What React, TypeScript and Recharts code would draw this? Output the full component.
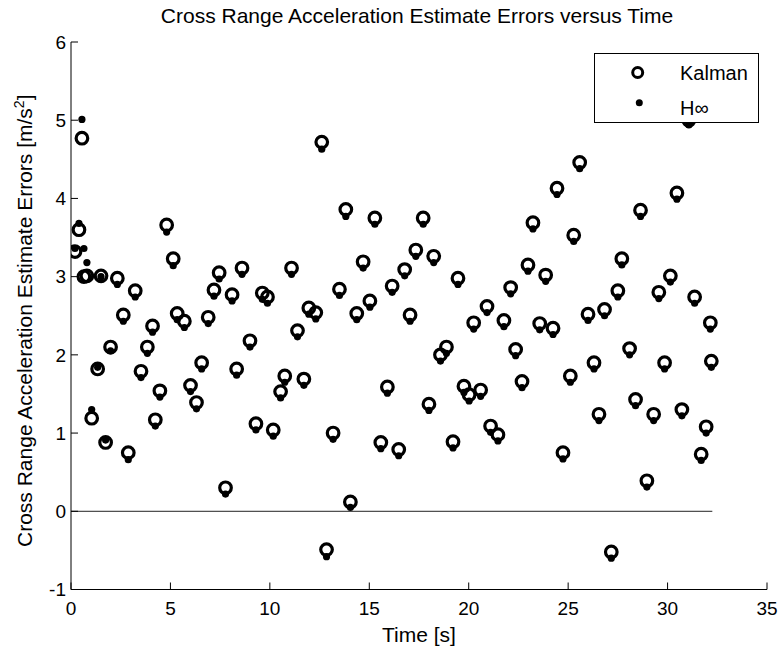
import React from 'react';
import { ScatterChart, Scatter, XAxis, YAxis, ReferenceLine, Legend } from 'recharts';

// Sample times [s]
const times = [
  0.2, 0.4, 0.55, 0.65, 0.8, 1.04, 1.34, 1.51, 1.74, 1.99,
  2.33, 2.63, 2.88, 3.23, 3.52, 3.84, 4.1, 4.24, 4.47, 4.81,
  5.14, 5.34, 5.7, 6.01, 6.31, 6.57, 6.9, 7.19, 7.45, 7.77,
  8.1, 8.33, 8.6, 9.0, 9.3, 9.62, 9.88, 10.17, 10.54, 10.75,
  11.09, 11.39, 11.71, 11.96, 12.31, 12.61, 12.85, 13.18, 13.5, 13.82,
  14.05, 14.37, 14.69, 15.03, 15.28, 15.58, 15.91, 16.15, 16.48, 16.78,
  17.05, 17.34, 17.71, 18.0, 18.24, 18.58, 18.88, 19.21, 19.46, 19.76,
  20.02, 20.25, 20.6, 20.92, 21.1, 21.47, 21.77, 22.11, 22.36, 22.68,
  22.98, 23.23, 23.57, 23.87, 24.24, 24.44, 24.74, 25.11, 25.28, 25.58,
  26.0, 26.3, 26.55, 26.83, 27.17, 27.5, 27.7, 28.09, 28.39, 28.64,
  28.96, 29.3, 29.56, 29.85, 30.14, 30.47, 30.72, 31.07, 31.36, 31.69,
  31.94, 32.15, 32.2,
];

// Kalman filter cross range acceleration estimate errors [m/s^2]
const kalmanErr = [
  3.32, 3.6, 4.77, 3.0, 3.01, 1.19, 1.82, 3.01, 0.88, 2.1,
  2.98, 2.51, 0.75, 2.82, 1.79, 2.1, 2.37, 1.17, 1.54, 3.66,
  3.23, 2.53, 2.43, 1.61, 1.39, 1.9, 2.48, 2.83, 3.05, 0.3,
  2.77, 1.82, 3.11, 2.18, 1.12, 2.79, 2.74, 1.04, 1.53, 1.73,
  3.11, 2.31, 1.69, 2.6, 2.54, 4.72, -0.49, 1.0, 2.84, 3.86,
  0.12, 2.53, 3.19, 2.69, 3.75, 0.88, 1.59, 2.88, 0.79, 3.09,
  2.51, 3.34, 3.75, 1.37, 3.26, 2.0, 2.1, 0.89, 2.98, 1.6,
  1.49, 2.41, 1.55, 2.62, 1.09, 0.98, 2.44, 2.86, 2.07, 1.66,
  3.15, 3.69, 2.4, 3.02, 2.34, 4.13, 0.75, 1.73, 3.53, 4.46,
  2.52, 1.9, 1.24, 2.58, -0.52, 2.82, 3.23, 2.08, 1.43, 3.85,
  0.39, 1.24, 2.8, 1.9, 3.01, 4.07, 1.3, 5.0, 2.74, 0.73,
  1.08, 2.41, 1.92,
];

// H-infinity filter cross range acceleration estimate errors [m/s^2]
const hinfErr = [
  3.36, 3.68, 5.01, 3.36, 3.18, 1.3, 1.84, 3.0, 0.91, 2.05,
  2.9, 2.43, 0.66, 2.74, 1.71, 2.02, 2.29, 1.09, 1.46, 3.57,
  3.14, 2.45, 2.35, 1.53, 1.31, 1.82, 2.4, 2.75, 2.97, 0.22,
  2.69, 1.74, 3.03, 2.1, 1.04, 2.71, 2.66, 0.96, 1.45, 1.65,
  3.03, 2.23, 1.61, 2.52, 2.46, 4.63, -0.58, 0.92, 2.76, 3.77,
  0.05, 2.45, 3.11, 2.61, 3.67, 0.8, 1.51, 2.8, 0.71, 3.01,
  2.43, 3.26, 3.67, 1.29, 3.18, 1.92, 2.02, 0.81, 2.9, 1.52,
  1.41, 2.33, 1.47, 2.54, 1.01, 0.9, 2.36, 2.78, 1.99, 1.58,
  3.07, 3.61, 2.32, 2.94, 2.26, 4.05, 0.67, 1.65, 3.45, 4.38,
  2.44, 1.82, 1.16, 2.5, -0.6, 2.74, 3.15, 2.0, 1.35, 3.77,
  0.31, 1.16, 2.72, 1.82, 2.93, 3.99, 1.22, 4.94, 2.66, 0.65,
  1.0, 2.33, 1.84,
];

const xTicks = [0, 5, 10, 15, 20, 25, 30, 35];
const yTicks = [-1, 0, 1, 2, 3, 4, 5, 6];
const zeroLineStart = 0;
const zeroLineEnd = 32.25;

const seriesNames = ['Kalman', 'H∞'];
const titleText = 'Cross Range Acceleration Estimate Errors versus Time';
const xLabelText = 'Time [s]';
const yLabelText = 'Cross Range Acceleration Estimate Errors [m/s';

const kalmanData = times.map((t, i) => ({ t, e: kalmanErr[i] }));
const hinfData = times.map((t, i) => ({ t, e: hinfErr[i] }));

const FONT = '"Liberation Sans", Arial, Helvetica, sans-serif';
const TICK_LEN = 7;
const LABEL_SIZE = 21;

// Inward-pointing tick mark with optional label, MATLAB box style
function AxisTick(props: any) {
  const { x, y, payload, side } = props;
  if (side === 'bottom') {
    return (
      <g>
        <line x1={x} y1={y} x2={x} y2={y - TICK_LEN} stroke="#000" strokeWidth={1} />
        <text x={x} y={y + 25} textAnchor="middle" fontFamily={FONT} fontSize={19} fill="#000">
          {payload.value}
        </text>
      </g>
    );
  }
  if (side === 'left') {
    return (
      <g>
        <line x1={x} y1={y} x2={x + TICK_LEN} y2={y} stroke="#000" strokeWidth={1} />
        <text x={x - 5} y={y + 6.8} textAnchor="end" fontFamily={FONT} fontSize={19} fill="#000">
          {payload.value}
        </text>
      </g>
    );
  }
  if (side === 'top') {
    return <line x1={x} y1={y} x2={x} y2={y + TICK_LEN} stroke="#000" strokeWidth={1} />;
  }
  return <line x1={x} y1={y} x2={x - TICK_LEN} y2={y} stroke="#000" strokeWidth={1} />;
}

function AxisTitle(props: any) {
  const { viewBox, kind } = props;
  if (!viewBox) return null;
  const { x, y, width, height } = viewBox;
  if (kind === 'x') {
    return (
      <text x={x + width / 2} y={y + 52} textAnchor="middle" fontFamily={FONT} fontSize={LABEL_SIZE} fill="#000">
        {xLabelText}
      </text>
    );
  }
  const cx = x + width - 39;
  const cy = y + height / 2 + 5;
  return (
    <text
      x={cx}
      y={cy}
      transform={`rotate(-90, ${cx}, ${cy})`}
      textAnchor="middle"
      fontFamily={FONT}
      fontSize={LABEL_SIZE}
      fill="#000"
    >
      {yLabelText}
      <tspan dy={-8} fontSize={14}>2</tspan>
      <tspan dy={8}>]</tspan>
    </text>
  );
}

const ring = (p: any) => (
  <circle cx={p.cx} cy={p.cy} r={5.8} fill="none" stroke="#000" strokeWidth={3.2} />
);
const dot = (p: any) => <circle cx={p.cx} cy={p.cy} r={3.6} fill="#000" />;

function LegendBox(props: any) {
  const items = props.payload || [];
  const ordered = seriesNames
    .map((n) => items.find((it: any) => it.value === n))
    .filter(Boolean);
  return (
    <svg width={165} height={70} style={{ display: 'block' }}>
      <rect x={0.5} y={0.5} width={164} height={69} fill="#fff" stroke="#000" strokeWidth={1} />
      {ordered.map((it: any, i: number) => (
        <g key={it.value}>
          {it.value === seriesNames[0] ? (
            <circle cx={43.7} cy={19.5} r={5} fill="none" stroke="#000" strokeWidth={3} />
          ) : (
            <circle cx={45.3} cy={49.7} r={3.5} fill="#000" />
          )}
          <text x={86} y={i === 0 ? 27 : 62} fontFamily={FONT} fontSize={20} fill="#000">
            {it.value}
          </text>
        </g>
      ))}
    </svg>
  );
}

export default function App() {
  return (
    <div style={{ position: 'absolute', left: 0, top: 0, width: 781, height: 649, background: '#fff' }}>
      <svg
        width={781}
        height={40}
        style={{ position: 'absolute', left: 0, top: 0, display: 'block' }}
      >
        <text x={417} y={23} textAnchor="middle" fontFamily={FONT} fontSize={LABEL_SIZE} fill="#000">
          {titleText}
        </text>
      </svg>
      <ScatterChart width={781} height={649} margin={{ top: 42, right: 14, bottom: 19.5, left: 11 }}>
        <XAxis
          xAxisId="b"
          dataKey="t"
          type="number"
          domain={[0, 35]}
          ticks={xTicks}
          interval={0}
          tickSize={0}
          tickMargin={0}
          tickLine={false}
          axisLine={{ stroke: '#000', strokeWidth: 1 }}
          height={40}
          tick={<AxisTick side="bottom" />}
          label={<AxisTitle kind="x" />}
          allowDataOverflow
        />
        <XAxis
          xAxisId="t"
          orientation="top"
          type="number"
          domain={[0, 35]}
          ticks={xTicks}
          interval={0}
          tickSize={0}
          tickMargin={0}
          tickLine={false}
          axisLine={{ stroke: '#000', strokeWidth: 1 }}
          height={0}
          tick={<AxisTick side="top" />}
          allowDataOverflow
        />
        <YAxis
          yAxisId="l"
          dataKey="e"
          type="number"
          domain={[-1, 6]}
          ticks={yTicks}
          interval={0}
          tickSize={0}
          tickMargin={0}
          tickLine={false}
          axisLine={{ stroke: '#000', strokeWidth: 1 }}
          width={60}
          tick={<AxisTick side="left" />}
          label={<AxisTitle kind="y" />}
          allowDataOverflow
        />
        <YAxis
          yAxisId="r"
          orientation="right"
          type="number"
          domain={[-1, 6]}
          ticks={yTicks}
          interval={0}
          tickSize={0}
          tickMargin={0}
          tickLine={false}
          axisLine={{ stroke: '#000', strokeWidth: 1 }}
          width={0}
          tick={<AxisTick side="right" />}
          allowDataOverflow
        />
        <ReferenceLine
          xAxisId="b"
          yAxisId="l"
          segment={[
            { x: zeroLineStart, y: 0 },
            { x: zeroLineEnd, y: 0 },
          ]}
          stroke="#222"
          strokeWidth={1}
        />
        <Scatter name={seriesNames[0]} xAxisId="b" yAxisId="l" data={kalmanData} shape={ring} isAnimationActive={false} />
        <Scatter name={seriesNames[1]} xAxisId="b" yAxisId="l" data={hinfData} shape={dot} isAnimationActive={false} />
        <Legend
          layout="vertical"
          align="center"
          verticalAlign="middle"
          content={<LegendBox />}
          wrapperStyle={{ left: 594, top: 53, width: 165, height: 70 }}
        />
      </ScatterChart>
    </div>
  );
}
